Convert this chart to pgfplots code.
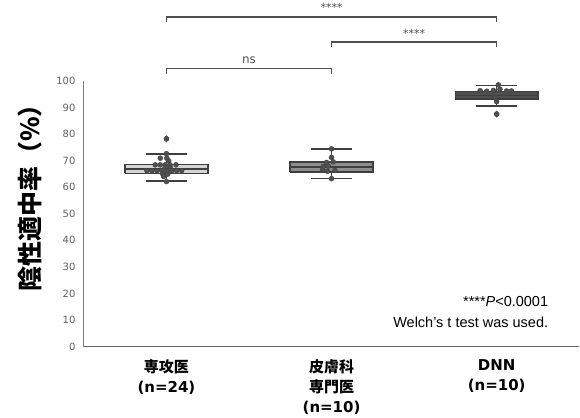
\documentclass[border=0pt]{standalone}
\usepackage{fontspec}
\usepackage{pgfplots}
\pgfplotsset{compat=1.18}
\setmainfont{DejaVu Sans}
\newfontfamily\cjk{Noto Sans CJK JP}
\newfontfamily\arial{Liberation Sans}
\definecolor{boxA}{HTML}{D4D4D4}
\definecolor{boxB}{HTML}{8E8E8E}
\definecolor{boxC}{HTML}{4F4F4F}
\definecolor{edge}{HTML}{3F3F3F}
\definecolor{ptc}{HTML}{505050}
\definecolor{tickgray}{HTML}{5F5F5F}
\definecolor{brk}{HTML}{505050}
\pgfplotsset{bx/.style={draw=edge, line width=1.6pt, mark=none},
  sw/.style={only marks, mark=*, mark size=2.5pt, mark options={fill=ptc, draw=edge, line width=0.4pt}}}
\begin{document}
\begin{tikzpicture}
\begin{axis}[
  width=496pt, height=266pt, scale only axis,
  xmin=-0.5, xmax=2.5, ymin=0, ymax=100,
  axis x line=bottom, axis y line=left,
  axis line style={-},
  x axis line style={draw=black!60, line width=1.6pt},
  y axis line style={draw=black!50, line width=1.2pt},
  clip=false,
  major tick length=0pt,
  xtick={0,1,2},
  xticklabels={{{\cjk 専攻医}\\(n=24)},{{\cjk 皮膚科}\\{\cjk 専門医}\\(n=10)},{DNN\\(n=10)}},
  xticklabel style={align=center, font=\fontsize{15}{20}\selectfont\bfseries, text=black, yshift=-9.5pt},
  ytick={0,10,...,100},
  yticklabel style={font=\fontsize{10}{12}\selectfont, text=tickgray, xshift=-5pt},
  /pgf/number format/assume math mode=true,
]
% invisible frame fixing the picture size
\path (axis cs:-0.5,0) ++(-84pt,-69pt) rectangle ++(580pt,416pt);
% box 1
\addplot[bx] coordinates {(0,62.4) (0,65.2)};
\addplot[bx] coordinates {(0,68.5) (0,72.4)};
\addplot[bx] coordinates {(-0.125,62.4) (0.125,62.4)};
\addplot[bx] coordinates {(-0.125,72.4) (0.125,72.4)};
\addplot[bx, fill=boxA] coordinates {(-0.25,65.2) (0.25,65.2) (0.25,68.5) (-0.25,68.5) (-0.25,65.2)};
\addplot[bx] coordinates {(-0.25,66.8) (0.25,66.8)};
% box 2
\addplot[bx] coordinates {(1,63.2) (1,65.7)};
\addplot[bx] coordinates {(1,69.4) (1,74.4)};
\addplot[bx] coordinates {(0.875,63.2) (1.125,63.2)};
\addplot[bx] coordinates {(0.875,74.4) (1.125,74.4)};
\addplot[bx, fill=boxB] coordinates {(0.75,65.7) (1.25,65.7) (1.25,69.4) (0.75,69.4) (0.75,65.7)};
\addplot[bx] coordinates {(0.75,67.6) (1.25,67.6)};
% box 3
\addplot[bx] coordinates {(2,90.6) (2,93.1)};
\addplot[bx] coordinates {(2,96.0) (2,98.2)};
\addplot[bx] coordinates {(1.875,90.6) (2.125,90.6)};
\addplot[bx] coordinates {(1.875,98.2) (2.125,98.2)};
\addplot[bx, fill=boxC] coordinates {(1.75,93.1) (2.25,93.1) (2.25,96.0) (1.75,96.0) (1.75,93.1)};
\addplot[bx] coordinates {(1.75,94.5) (2.25,94.5)};
% outliers
\addplot[only marks, mark=diamond*, mark size=3.2pt, mark options={fill=edge, draw=edge}] coordinates {(0,78.2) (2,87.5)};
% swarm points
\addplot[sw] coordinates {
(0.000,78.2) (0.000,72.6)
(-0.037,70.9) (0.002,70.9)
(0.014,69.9)
(-0.068,68.4) (-0.038,68.4) (-0.008,68.4) (0.022,68.4) (0.058,68.4)
(-0.008,67.4) (0.022,67.4)
(-0.118,66.2) (-0.088,66.2) (-0.058,66.2) (-0.028,66.2) (0.002,66.2) (0.032,66.2) (0.062,66.2) (0.092,66.2)
(-0.022,64.9) (0.008,64.9)
(-0.017,64.0)
(0.000,62.1)
};
\addplot[sw] coordinates {
(1.000,74.4) (1.000,71.2) (0.970,69.3) (1.010,69.5) (0.950,67.8) (0.980,67.9)
(0.945,66.4) (0.975,66.0) (1.020,66.3) (1.000,63.2)
};
\addplot[sw] coordinates {
(2.010,98.5) (1.900,96.3) (1.940,96.1) (1.980,96.4) (2.020,96.8) (2.060,96.2) (2.090,96.2)
(1.990,93.9) (2.000,92.2) (2.000,87.5)
};
% significance brackets
\draw[brk, line width=1.7pt] (axis cs:0,122.2) -- (axis cs:0,124.1) -- (axis cs:2,124.1) -- (axis cs:2,122.2);
\draw[brk, line width=1.7pt] (axis cs:1,112.8) -- (axis cs:1,114.7) -- (axis cs:2,114.7) -- (axis cs:2,112.8);
\draw[brk, line width=1.7pt] (axis cs:0,102.6) -- (axis cs:0,104.7) -- (axis cs:1,104.7) -- (axis cs:1,102.6);
\node[text=brk, font=\fontsize{11}{12}\selectfont] at (axis cs:1,127.5) {****};
\node[text=brk, font=\fontsize{11}{12}\selectfont] at (axis cs:1.5,117.8) {****};
\node[text=brk, font=\fontsize{12}{13}\selectfont] at (axis cs:0.5,107.8) {ns};
% note
\node[anchor=east, font=\arial\fontsize{14.5}{16}\selectfont] at (axis cs:2.333,16.9) {****\textit{P}<0.0001};
\node[anchor=east, font=\arial\fontsize{14.5}{16}\selectfont] at (axis cs:2.333,9.0) {Welch’s t test was used.};
% y label
\node[rotate=90, font=\cjk\bfseries\fontsize{25}{28}\selectfont] at (axis description cs:-0.109,0.582) {陰性適中率（\%）};
\end{axis}
\end{tikzpicture}
\end{document}
